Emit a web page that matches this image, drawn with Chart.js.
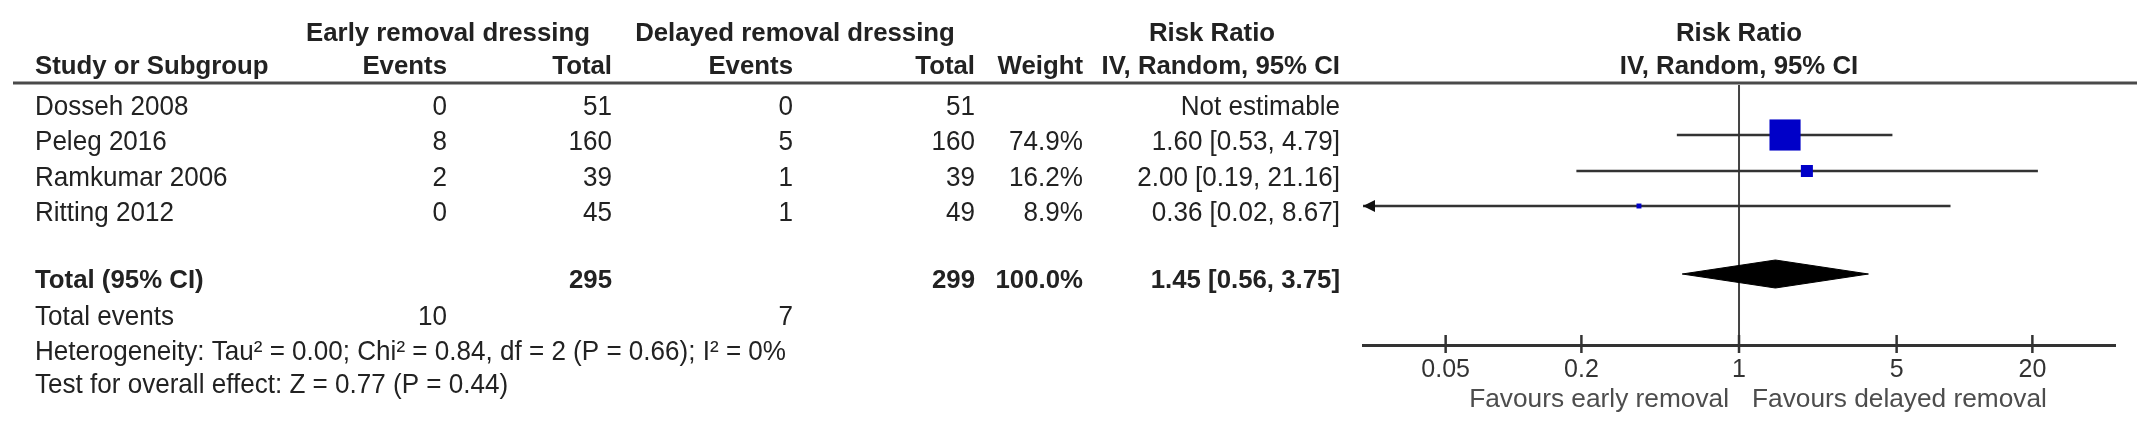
<!DOCTYPE html>
<html>
<head>
<meta charset="utf-8">
<script src="https://cdn.jsdelivr.net/npm/chart.js@4.4.1/dist/chart.umd.min.js"></script>
<style>
  html, body { margin: 0; padding: 0; background: #fff; }
  canvas { display: block; }
</style>
</head>
<body>
<canvas id="forest" width="2150" height="444"></canvas>
<script>
/* ── Data ────────────────────────────────────────── */
const studies     = ['Dosseh 2008', 'Peleg 2016', 'Ramkumar 2006', 'Ritting 2012'];
const earlyEv     = [0, 8, 2, 0];
const earlyTot    = [51, 160, 39, 45];
const delayEv     = [0, 5, 1, 1];
const delayTot    = [51, 160, 39, 49];
const weights     = [null, 74.9, 16.2, 8.9];
const rr          = [null, 1.60, 2.00, 0.36];
const rrLo        = [null, 0.53, 0.19, 0.02];
const rrHi        = [null, 4.79, 21.16, 8.67];
const pooled      = [1.45, 0.56, 3.75];      // estimate, lower, upper
const totals      = [295, 299];              // early, delayed
const totalEvents = [10, 7];
const tickValues  = [0.05, 0.2, 1, 5, 20];
const hetStats    = ['0.00', '0.84', 2, '0.66', 0];   // Tau², Chi², df, P, I²
const effectStats = ['0.77', '0.44'];                 // Z, P

/* ── Layout / style ──────────────────────────────── */
const ROW_Y   = [100, 135, 171, 206];
const TOTAL_Y = 274;
const DIAM_H  = 14;
const SQ_R    = [0, 22, 8.5, 3.5];
const AX_MIN  = 0.0215, AX_MAX = 46.5;
const FAM     = '"Liberation Sans", Arial, sans-serif';
const INK     = '#222';
const LINE    = '#333';
const REG_PX  = 27.5;   // regular text drawn taller, then condensed

const hetText = `Heterogeneity: Tau² = ${hetStats[0]}; Chi² = ${hetStats[1]}, df = ${hetStats[2]} (P = ${hetStats[3]}); I² = ${hetStats[4]}%`;
const effText = `Test for overall effect: Z = ${effectStats[0]} (P = ${effectStats[1]})`;
const fmtCI   = (e, l, h) => `${e.toFixed(2)} [${l.toFixed(2)}, ${h.toFixed(2)}]`;

// pick font sizes so the text widths match the reference
const mctx = document.createElement('canvas').getContext('2d');
function fitSize(s, w, bold) {
  mctx.font = (bold ? 'bold ' : '') + '100px ' + FAM;
  return 100 * w / mctx.measureText(s).width;
}
const REG  = fitSize(hetText, 751, false);
const BOLD = fitSize('Early removal dressing', 284, true);
const FAV  = fitSize('Favours early removal', 260, false);
const SQX  = REG / REG_PX;

function put(ctx, s, x, y, align, bold, size, color) {
  ctx.save();
  ctx.fillStyle = color || INK;
  ctx.textAlign = align;
  ctx.textBaseline = 'alphabetic';
  if (bold) {
    ctx.font = 'bold ' + BOLD + 'px ' + FAM;
    ctx.fillText(s, x, y);
  } else if (size) {
    ctx.font = size + 'px ' + FAM;
    ctx.fillText(s, x, y);
  } else {
    ctx.font = REG_PX + 'px ' + FAM;
    ctx.translate(x, y);
    ctx.scale(SQX, 1);
    ctx.fillText(s, 0, 0);
  }
  ctx.restore();
}

/* ── Table + decorations ─────────────────────────── */
const forestDeco = {
  id: 'forestDeco',
  beforeDatasetsDraw(chart) {
    const { ctx, chartArea, scales: { x } } = chart;
    const x1 = x.getPixelForValue(1);
    ctx.save();
    ctx.strokeStyle = '#444';
    ctx.lineWidth = 2;
    ctx.beginPath();
    ctx.moveTo(x1, chartArea.top);
    ctx.lineTo(x1, chartArea.bottom);
    ctx.stroke();
    ctx.restore();
  },
  afterDraw(chart) {
    const { ctx, chartArea, scales: { x, y } } = chart;
    const x1 = x.getPixelForValue(1);
    ctx.save();

    // header rule
    ctx.strokeStyle = '#4a4a4a';
    ctx.lineWidth = 3;
    ctx.beginPath();
    ctx.moveTo(13, 83);
    ctx.lineTo(2137, 83);
    ctx.stroke();

    // headers
    put(ctx, 'Early removal dressing', 448, 41, 'center', true);
    put(ctx, 'Delayed removal dressing', 795, 41, 'center', true);
    put(ctx, 'Risk Ratio', 1212, 41, 'center', true);
    put(ctx, 'Risk Ratio', x1, 41, 'center', true);
    put(ctx, 'Study or Subgroup', 35, 74, 'left', true);
    put(ctx, 'Events', 447, 74, 'right', true);
    put(ctx, 'Total', 612, 74, 'right', true);
    put(ctx, 'Events', 793, 74, 'right', true);
    put(ctx, 'Total', 975, 74, 'right', true);
    put(ctx, 'Weight', 1083, 74, 'right', true);
    put(ctx, 'IV, Random, 95% CI', 1340, 74, 'right', true);
    put(ctx, 'IV, Random, 95% CI', x1, 74, 'center', true);

    // study rows
    studies.forEach((name, i) => {
      const b = ROW_Y[i] + 15;
      put(ctx, name, 35, b, 'left');
      put(ctx, String(earlyEv[i]), 447, b, 'right');
      put(ctx, String(earlyTot[i]), 612, b, 'right');
      put(ctx, String(delayEv[i]), 793, b, 'right');
      put(ctx, String(delayTot[i]), 975, b, 'right');
      if (weights[i] != null) put(ctx, weights[i].toFixed(1) + '%', 1083, b, 'right');
      put(ctx, rr[i] == null ? 'Not estimable' : fmtCI(rr[i], rrLo[i], rrHi[i]), 1340, b, 'right');
    });

    // total row
    const tb = TOTAL_Y + 14;
    put(ctx, 'Total (95% CI)', 35, tb, 'left', true);
    put(ctx, String(totals[0]), 612, tb, 'right', true);
    put(ctx, String(totals[1]), 975, tb, 'right', true);
    put(ctx, '100.0%', 1083, tb, 'right', true);
    put(ctx, fmtCI(pooled[0], pooled[1], pooled[2]), 1340, tb, 'right', true);

    put(ctx, 'Total events', 35, 325, 'left');
    put(ctx, String(totalEvents[0]), 447, 325, 'right');
    put(ctx, String(totalEvents[1]), 793, 325, 'right');
    put(ctx, hetText, 35, 360, 'left');
    put(ctx, effText, 35, 393, 'left');

    // tick marks crossing the axis
    ctx.strokeStyle = LINE;
    ctx.lineWidth = 2.5;
    tickValues.forEach(v => {
      const px = x.getPixelForValue(v);
      ctx.beginPath();
      ctx.moveTo(px, chartArea.bottom - 10);
      ctx.lineTo(px, chartArea.bottom + 8);
      ctx.stroke();
    });

    // arrows for CIs running off the axis
    ctx.fillStyle = '#111';
    studies.forEach((_, i) => {
      if (rrLo[i] == null) return;
      const py = y.getPixelForValue(ROW_Y[i]);
      if (rrLo[i] < AX_MIN) {
        ctx.beginPath();
        ctx.moveTo(x.left, py);
        ctx.lineTo(x.left + 12, py - 6);
        ctx.lineTo(x.left + 12, py + 6);
        ctx.closePath();
        ctx.fill();
      }
      if (rrHi[i] > AX_MAX) {
        ctx.beginPath();
        ctx.moveTo(x.right, py);
        ctx.lineTo(x.right - 12, py - 6);
        ctx.lineTo(x.right - 12, py + 6);
        ctx.closePath();
        ctx.fill();
      }
    });

    // favours labels
    put(ctx, 'Favours early removal', x1 - 10, 407, 'right', false, FAV, '#4d4d4d');
    put(ctx, 'Favours delayed removal', x1 + 13, 407, 'left', false, FAV, '#4d4d4d');
    ctx.restore();
  }
};

/* ── Datasets ────────────────────────────────────── */
const est = studies.map((_, i) => i).filter(i => rr[i] != null);

const squares = {
  data: est.map(i => ({ x: rr[i], y: ROW_Y[i] })),
  pointStyle: 'rect',
  pointRadius: est.map(i => SQ_R[i]),
  backgroundColor: '#0000c8',
  borderColor: '#0000c8',
  borderWidth: 0
};

const ciLines = est.map(i => ({
  data: [{ x: rrLo[i], y: ROW_Y[i] }, { x: rrHi[i], y: ROW_Y[i] }],
  showLine: true,
  borderColor: LINE,
  borderWidth: 2.5,
  pointRadius: 0
}));

const diamondTop = {
  data: [{ x: pooled[1], y: TOTAL_Y }, { x: pooled[0], y: TOTAL_Y - DIAM_H }, { x: pooled[2], y: TOTAL_Y }],
  showLine: true, fill: '+1', tension: 0,
  borderColor: '#000', backgroundColor: '#000', borderWidth: 1, pointRadius: 0
};
const diamondBottom = {
  data: [{ x: pooled[1], y: TOTAL_Y }, { x: pooled[0], y: TOTAL_Y + DIAM_H }, { x: pooled[2], y: TOTAL_Y }],
  showLine: true, fill: false, tension: 0,
  borderColor: '#000', borderWidth: 1, pointRadius: 0
};

/* ── Chart ───────────────────────────────────────── */
new Chart(document.getElementById('forest'), {
  type: 'scatter',
  data: { datasets: [squares, ...ciLines, diamondTop, diamondBottom] },
  options: {
    responsive: false,
    animation: false,
    devicePixelRatio: 1,
    layout: { padding: { left: 1363, right: 35, top: 85, bottom: 0 } },
    plugins: { legend: { display: false }, tooltip: { enabled: false } },
    scales: {
      x: {
        type: 'logarithmic',
        min: AX_MIN,
        max: AX_MAX,
        position: 'bottom',
        afterBuildTicks: s => { s.ticks = tickValues.map(v => ({ value: v })); },
        afterFit: s => { s.height = 99; },
        grid: { display: false, drawTicks: false },
        border: { display: true, color: LINE, width: 3 },
        ticks: {
          color: '#333',
          font: { family: FAM, size: 25 },
          padding: 10,
          autoSkip: false,
          maxRotation: 0,
          callback: v => String(v)
        }
      },
      y: { type: 'linear', min: 85, max: 345, reverse: true, display: false }
    }
  },
  plugins: [forestDeco]
});
</script>
</body>
</html>
